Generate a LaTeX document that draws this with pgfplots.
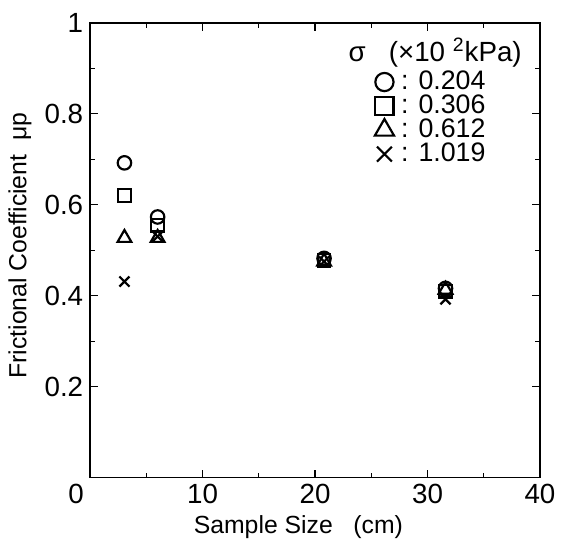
\documentclass[border=0pt]{standalone}
\usepackage{pgfplots}
\pgfplotsset{compat=1.18}
\usepackage{fontspec}
\setmainfont{Liberation Sans}
\begin{document}
\begin{tikzpicture}
\begin{axis}[
  scale only axis,
  width=227pt, height=229.5pt,
  xmin=0, xmax=40, ymin=0, ymax=1,
  xtick={0,10,20,30,40},
  xticklabels={\makebox[0pt][r]{0\hspace{3.2pt}},10,20,30,40},
  ytick={0.2,0.4,0.6,0.8,1},
  yticklabels={0.2,0.4,0.6,0.8,1},
  minor x tick num=1, minor y tick num=1,
  tick align=inside,
  major tick length=4pt, minor tick length=2.5pt,
  axis line style={line width=0.8pt},
  every tick/.style={line width=0.6pt, black},
  /pgf/number format/assume math mode=true,
  tick label style={font=\fontsize{14}{16}\selectfont},
  label style={font=\fontsize{12.5}{15}\selectfont},
  xlabel={Sample Size \ \ (cm)},
  ylabel={Frictional Coefficient \ μp},
  xlabel style={at={(axis description cs:0.463,-0.108)}, anchor=center},
  ylabel style={at={(axis description cs:-0.156,0.51)}, anchor=center},
  legend style={draw=none, fill=none, at={(rel axis cs:0.632,0.897)}, anchor=north west,
    font=\fontsize{13.5}{14}\selectfont, row sep=0pt, inner sep=0pt,
    nodes={inner sep=0.6pt}},
  legend cell align=left,
  every axis plot/.append style={black, only marks, mark options={line width=1.1pt, black, fill=none}},
]
\addplot[mark=o, mark size=3.4pt, legend image post style={mark size=4.6pt}] coordinates {(3.05,0.692) (6.0,0.573) (20.8,0.482) (31.6,0.416)};
\addlegendentry{\hspace{3pt}: 0.204}
\addplot[mark=square, mark size=3.2pt, legend image post style={mark size=4.6pt}] coordinates {(3.05,0.620) (6.0,0.555) (20.8,0.477) (31.6,0.410)};
\addlegendentry{\hspace{3pt}: 0.306}
\addplot[mark=triangle, mark size=4pt, legend image post style={mark size=5.6pt}] coordinates {(3.05,0.527) (6.0,0.527) (20.8,0.475) (31.6,0.413)};
\addlegendentry{\hspace{3pt}: 0.612}
\addplot[mark=x, mark size=3.6pt, legend image post style={mark size=5.3pt}] coordinates {(3.05,0.431) (6.0,0.530) (20.8,0.475) (31.6,0.392)};
\addlegendentry{\hspace{3pt}: 1.019}
\node[font=\fontsize{14}{15}\selectfont] at (rel axis cs:0.767,0.935) {σ\ \ \ (×10\ \textsuperscript{2}kPa)};
\end{axis}
\path (current axis.south west) ++(-45.5pt,-31pt);
\path (current axis.north east) ++(8.5pt,11.5pt);
\end{tikzpicture}
\end{document}
